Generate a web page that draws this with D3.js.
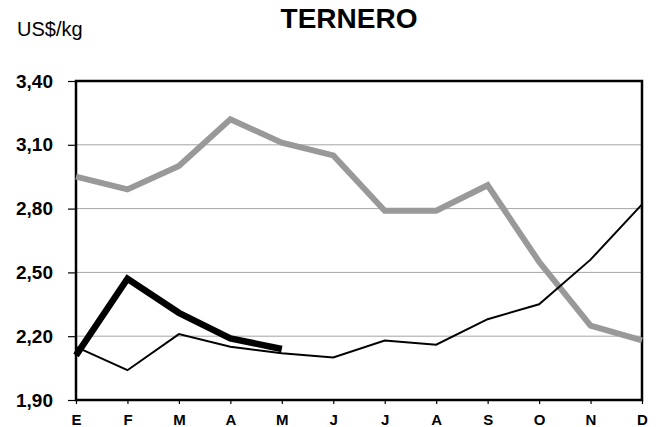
<!DOCTYPE html>
<html>
<head>
<meta charset="utf-8">
<script src="https://cdn.jsdelivr.net/npm/d3@7"></script>
<style>
  body { margin: 0; background: #fff; }
  text { font-family: Arial, "Liberation Sans", sans-serif; }
</style>
</head>
<body>
<div id="chart"></div>
<script>
// months and series
const months = ['E','F','M','A','M','J','J','A','S','O','N','D'];
const graySeries = [2.95, 2.89, 3.00, 3.22, 3.11, 3.05, 2.79, 2.79, 2.91, 2.55, 2.25, 2.18];
const thinSeries = [2.15, 2.04, 2.21, 2.15, 2.12, 2.10, 2.18, 2.16, 2.28, 2.35, 2.56, 2.82];
const thickSeries = [2.11, 2.47, 2.31, 2.19, 2.14];
const yTicks = [1.90, 2.20, 2.50, 2.80, 3.10, 3.40];

const W = 660, H = 427;
const mg = {top: 81, right: 18, bottom: 27, left: 76};
const wd = W - mg.left - mg.right;
const ht = H - mg.top - mg.bottom;

const svg = d3.select('#chart').append('svg')
    .attr('width', W)
    .attr('height', H);

const g = svg.append('g')
    .attr('transform', 'translate(' + mg.left + ',' + mg.top + ')');

const x = d3.scalePoint().domain(d3.range(months.length)).range([0, wd]);
const y = d3.scaleLinear().domain([1.9, 3.4]).range([ht, 0]);

// gridlines
g.selectAll('.grid').data(yTicks.slice(1, -1)).enter().append('line')
    .attr('x1', 0).attr('x2', wd)
    .attr('y1', d => y(d)).attr('y2', d => y(d))
    .attr('stroke', '#a6a6a6').attr('stroke-width', 1);

const fmt = d => d3.format('.2f')(d).replace('.', ',');

// y axis
const yAxis = g.append('g')
    .call(d3.axisLeft(y).tickValues(yTicks).tickSize(8).tickFormat(fmt));
yAxis.select('.domain').remove();
yAxis.selectAll('line').attr('stroke', '#000').attr('stroke-width', 1.2);
yAxis.selectAll('text')
    .attr('x', -23)
    .attr('font-size', 19)
    .attr('font-weight', 'bold')
    .attr('font-family', 'Arial, "Liberation Sans", sans-serif')
    .attr('fill', '#000');

// x axis
const xAxis = g.append('g')
    .attr('transform', 'translate(0,' + ht + ')')
    .call(d3.axisBottom(x).tickSize(4).tickFormat(i => months[i]));
xAxis.select('.domain').remove();
xAxis.selectAll('line').attr('stroke', '#000').attr('stroke-width', 1.2);
xAxis.selectAll('text')
    .attr('y', 14)
    .attr('font-size', 15)
    .attr('font-weight', 'bold')
    .attr('font-family', 'Arial, "Liberation Sans", sans-serif')
    .attr('fill', '#000');

// frame
g.append('rect')
    .attr('x', 0).attr('y', 0)
    .attr('width', wd).attr('height', ht)
    .attr('fill', 'none')
    .attr('stroke', '#000').attr('stroke-width', 2.5);

const line = d3.line().x((d, i) => x(i)).y(d => y(d));

g.append('path').datum(graySeries)
    .attr('d', line)
    .attr('fill', 'none')
    .attr('stroke', '#999999')
    .attr('stroke-width', 6);

g.append('path').datum(thinSeries)
    .attr('d', line)
    .attr('fill', 'none')
    .attr('stroke', '#000')
    .attr('stroke-width', 2);

g.append('path').datum(thickSeries)
    .attr('d', line)
    .attr('fill', 'none')
    .attr('stroke', '#000')
    .attr('stroke-width', 6.5);

// titles
svg.append('text')
    .attr('x', 349).attr('y', 28)
    .attr('text-anchor', 'middle')
    .attr('font-size', 28)
    .attr('font-weight', 'bold')
    .text('TERNERO');

svg.append('text')
    .attr('x', 17).attr('y', 36)
    .attr('font-size', 20)
    .text('US$/kg');
</script>
</body>
</html>
